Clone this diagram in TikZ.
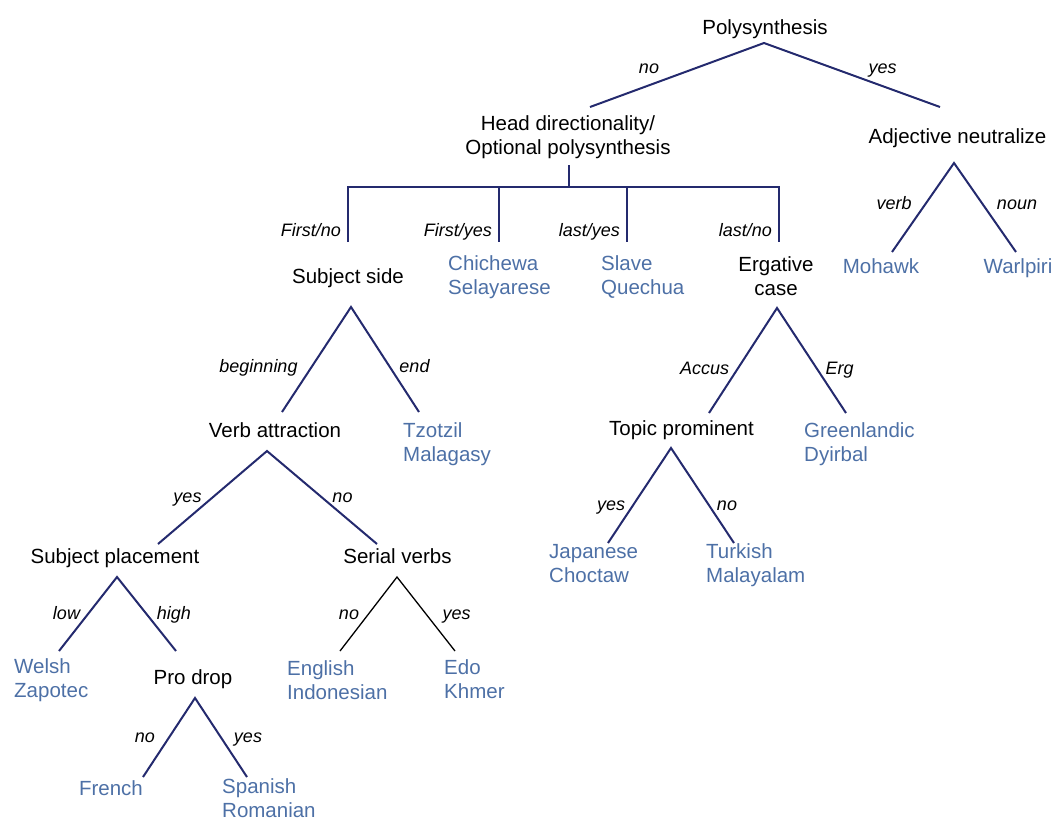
\documentclass[tikz,border=0pt]{standalone}
\usepackage{fontspec}
\setmainfont{Liberation Sans}
\definecolor{navy}{RGB}{36,42,110}
\definecolor{langblue}{RGB}{77,112,166}
\tikzset{
  cat/.style={font=\fontsize{20.5}{24}\selectfont, text=black, inner sep=0pt, anchor=base},
  lang/.style={font=\fontsize{20.5}{24}\selectfont, text=langblue, inner sep=0pt, anchor=base west, align=left},
  langc/.style={font=\fontsize{20.5}{24}\selectfont, text=langblue, inner sep=0pt, anchor=base},
  lab/.style={font=\itshape\fontsize{18}{21}\selectfont, text=black, inner sep=0pt, anchor=base},
  edge/.style={draw=navy, line width=2pt},
  thinedge/.style={draw=black, line width=1.3pt}
}
\begin{document}
\begin{tikzpicture}[x=1pt,y=-1pt]
\useasboundingbox (0,0) rectangle (1057,820);
% ---- text nodes (multi-line nodes: base = last line) ----
\node[cat] (poly) at (765,34) {Polysynthesis};
\node[cat, align=center] (head) at (568,154) {Head directionality/\\Optional polysynthesis};
\node[cat] (adj) at (957.5,143) {Adjective neutralize};
\node[langc] (mohawk) at (881,273) {Mohawk};
\node[langc] (warlpiri) at (1018,273) {Warlpiri};
\node[cat] (subj) at (348,283) {Subject side};
\node[lang] (chichewa) at (448,294) {Chichewa\\Selayarese};
\node[lang] (slave) at (601,294) {Slave\\Quechua};
\node[cat, align=center] (erg) at (776,295) {Ergative\\case};
\node[cat] (verb) at (275,437) {Verb attraction};
\node[lang] (tzotzil) at (403,461) {Tzotzil\\Malagasy};
\node[cat] (topic) at (681.5,435) {Topic prominent};
\node[lang] (green) at (804,461) {Greenlandic\\Dyirbal};
\node[cat] (place) at (115,563) {Subject placement};
\node[cat] (serial) at (397.5,563) {Serial verbs};
\node[lang] (japanese) at (549,582) {Japanese\\Choctaw};
\node[lang] (turkish) at (706,582) {Turkish\\Malayalam};
\node[lang] (welsh) at (14,697) {Welsh\\Zapotec};
\node[cat] (prodrop) at (193,684) {Pro drop};
\node[lang] (english) at (287,699) {English\\Indonesian};
\node[lang] (edo) at (444,698) {Edo\\Khmer};
\node[langc] (french) at (111,795) {French};
\node[lang] (spanish) at (222,817) {Spanish\\Romanian};
% ---- branch labels ----
\node[lab] (l-no1) at (649,73) {no};
\node[lab] (l-yes1) at (882.5,73) {yes};
\node[lab, anchor=base east] (l-fn) at (341,236) {First/no};
\node[lab, anchor=base east] (l-fy) at (492,236) {First/yes};
\node[lab, anchor=base east] (l-ly) at (620,236) {last/yes};
\node[lab, anchor=base east] (l-ln) at (772,236) {last/no};
\node[lab] (l-verb) at (894,209) {verb};
\node[lab] (l-noun) at (1017,209) {noun};
\node[lab] (l-beg) at (258.5,372) {beginning};
\node[lab] (l-end) at (414.5,372) {end};
\node[lab] (l-accus) at (704.5,374) {Accus};
\node[lab] (l-erg) at (839.5,374) {Erg};
\node[lab] (l-yes2) at (187.5,502) {yes};
\node[lab] (l-no2) at (342.5,502) {no};
\node[lab] (l-yes3) at (611,510) {yes};
\node[lab] (l-no3) at (727,510) {no};
\node[lab] (l-low) at (66.5,619) {low};
\node[lab] (l-high) at (174,619) {high};
\node[lab] (l-no4) at (349,619) {no};
\node[lab] (l-yes4) at (456.5,619) {yes};
\node[lab] (l-no5) at (145,742) {no};
\node[lab] (l-yes5) at (248,742) {yes};
% ---- connector points ----
\coordinate (polyA) at (764,43);
\coordinate (polyL) at (590,107);
\coordinate (polyR) at (940,107);
\coordinate (headA) at (569,165);
\coordinate (headB) at (569,187);
\coordinate (bar1) at (348,187);
\coordinate (bar2) at (499,187);
\coordinate (bar3) at (627,187);
\coordinate (bar4) at (779,187);
\coordinate (end1) at (348,242);
\coordinate (end2) at (499,242);
\coordinate (end3) at (627,242);
\coordinate (end4) at (779,242);
\coordinate (adjA) at (954,163);
\coordinate (adjL) at (892,252);
\coordinate (adjR) at (1016,252);
\coordinate (subjA) at (351,307);
\coordinate (subjL) at (282,412);
\coordinate (subjR) at (419,412);
\coordinate (verbA) at (267,451);
\coordinate (verbL) at (158,544);
\coordinate (verbR) at (377,544);
\coordinate (placeA) at (117,577);
\coordinate (placeL) at (59,651);
\coordinate (placeR) at (176,651);
\coordinate (proA) at (195,698);
\coordinate (proL) at (143,777);
\coordinate (proR) at (247,777);
\coordinate (serA) at (397,577);
\coordinate (serL) at (340,651);
\coordinate (serR) at (455,651);
\coordinate (ergA) at (777,308);
\coordinate (ergL) at (709,413);
\coordinate (ergR) at (846,413);
\coordinate (topA) at (671,448);
\coordinate (topL) at (608,543);
\coordinate (topR) at (734,543);
% ---- connectors ----
\draw[edge] (polyL) -- (polyA) -- (polyR);
\draw[edge] (headA) -- (headB);
\draw[edge] (end1) -- (bar1) -- (bar4) -- (end4);
\draw[edge] (bar2) -- (end2);
\draw[edge] (bar3) -- (end3);
\draw[edge] (adjL) -- (adjA) -- (adjR);
\draw[edge] (subjL) -- (subjA) -- (subjR);
\draw[edge] (verbL) -- (verbA) -- (verbR);
\draw[edge] (placeL) -- (placeA) -- (placeR);
\draw[edge] (proL) -- (proA) -- (proR);
\draw[thinedge] (serL) -- (serA) -- (serR);
\draw[edge] (ergL) -- (ergA) -- (ergR);
\draw[edge] (topL) -- (topA) -- (topR);
\end{tikzpicture}
\end{document}
